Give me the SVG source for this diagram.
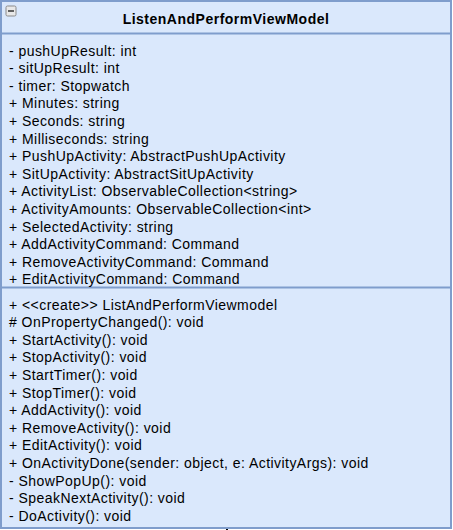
<svg xmlns="http://www.w3.org/2000/svg" width="453" height="530" viewBox="0 0 453 530">
  <style>
    .box { fill: #dae8fc; stroke: #7f9dcc; stroke-width: 2; }
    .sep { stroke: #7f9dcc; stroke-width: 2; }
    .title { font-family: "Liberation Sans", Arial, sans-serif; font-size: 14px; font-weight: bold; letter-spacing: 0.5px; fill: #000; text-anchor: middle; }
    .m { font-family: "Liberation Sans", Arial, sans-serif; font-size: 14px; letter-spacing: 0.45px; fill: #000; }
    .stub { stroke: #000; stroke-width: 2; }
  </style>
  <g id="connectors">
    <line class="stub" x1="227" y1="0" x2="227" y2="1"/>
    <line class="stub" x1="227" y1="528" x2="227" y2="530"/>
  </g>
  <g id="ListenAndPerformViewModel">
    <rect class="box" x="1" y="1" width="450" height="527"/>
    <line class="sep" x1="1" y1="33.5" x2="451" y2="33.5"/>
    <line class="sep" x1="1" y1="287.5" x2="451" y2="287.5"/>
    <!-- collapse toggle -->
    <rect x="6" y="6" width="10" height="10" rx="1.5" fill="#e8e8e8" stroke="#8a8a8a" stroke-width="1"/>
    <line x1="8" y1="11" x2="14" y2="11" stroke="#333" stroke-width="1.5"/>
    <text class="title" x="226" y="24">ListenAndPerformViewModel</text>
    <g id="attributes">
      <text class="m" x="9" y="55.5">- pushUpResult: int</text>
      <text class="m" x="9" y="73.1">- sitUpResult: int</text>
      <text class="m" x="9" y="90.7">- timer: Stopwatch</text>
      <text class="m" x="9" y="108.3">+ Minutes: string</text>
      <text class="m" x="9" y="125.9">+ Seconds: string</text>
      <text class="m" x="9" y="143.5">+ Milliseconds: string</text>
      <text class="m" x="9" y="161.1">+ PushUpActivity: AbstractPushUpActivity</text>
      <text class="m" x="9" y="178.7">+ SitUpActivity: AbstractSitUpActivity</text>
      <text class="m" x="9" y="196.3">+ ActivityList: ObservableCollection&lt;string&gt;</text>
      <text class="m" x="9" y="213.9">+ ActivityAmounts: ObservableCollection&lt;int&gt;</text>
      <text class="m" x="9" y="231.5">+ SelectedActivity: string</text>
      <text class="m" x="9" y="249.1">+ AddActivityCommand: Command</text>
      <text class="m" x="9" y="266.7">+ RemoveActivityCommand: Command</text>
      <text class="m" x="9" y="284.3">+ EditActivityCommand: Command</text>
    </g>
    <g id="operations">
      <text class="m" x="9" y="309.5">+ &lt;&lt;create&gt;&gt; ListAndPerformViewmodel</text>
      <text class="m" x="9" y="327.1"># OnPropertyChanged(): void</text>
      <text class="m" x="9" y="344.7">+ StartActivity(): void</text>
      <text class="m" x="9" y="362.3">+ StopActivity(): void</text>
      <text class="m" x="9" y="379.9">+ StartTimer(): void</text>
      <text class="m" x="9" y="397.5">+ StopTimer(): void</text>
      <text class="m" x="9" y="415.1">+ AddActivity(): void</text>
      <text class="m" x="9" y="432.7">+ RemoveActivity(): void</text>
      <text class="m" x="9" y="450.3">+ EditActivity(): void</text>
      <text class="m" x="9" y="467.9">+ OnActivityDone(sender: object, e: ActivityArgs): void</text>
      <text class="m" x="9" y="485.5">- ShowPopUp(): void</text>
      <text class="m" x="9" y="503.1">- SpeakNextActivity(): void</text>
      <text class="m" x="9" y="520.7">- DoActivity(): void</text>
    </g>
  </g>
</svg>
